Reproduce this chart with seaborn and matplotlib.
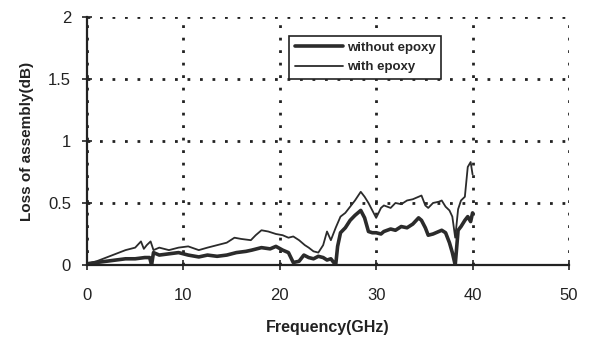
import numpy as np
import pandas as pd
import matplotlib
matplotlib.use("Agg")
import matplotlib.pyplot as plt
import seaborn as sns

# with epoxy (thin line)
freq_with = [0, 1, 2, 3, 4, 5, 5.6, 5.9, 6.2, 6.6, 6.9, 7.5, 8.5, 9.5, 10.5, 11.6, 12.5,
             13.5, 14.5, 15.3, 16, 17, 17.5, 18.1, 18.8, 19.6, 20.3, 20.9, 21.4, 22, 22.6,
             23, 23.5, 24, 24.5, 24.9, 25.3, 25.8, 26.3, 26.8, 27.3, 27.8, 28.4, 28.8,
             29.2, 29.6, 30, 30.5, 30.8, 31.5, 32, 32.6, 33.2, 33.8, 34.4, 34.7, 35.1,
             35.4, 35.9, 36.5, 36.8, 37.2, 37.6, 37.9, 38.2, 38.5, 38.8, 39.2, 39.5,
             39.8, 40]
loss_with = [0.01, 0.03, 0.06, 0.09, 0.12, 0.14, 0.19, 0.13, 0.16, 0.19, 0.12, 0.14,
             0.12, 0.14, 0.15, 0.12, 0.14, 0.16, 0.18, 0.22, 0.21, 0.20, 0.24, 0.28,
             0.27, 0.25, 0.24, 0.22, 0.23, 0.20, 0.16, 0.14, 0.11, 0.10, 0.16, 0.27,
             0.20, 0.30, 0.39, 0.42, 0.47, 0.52, 0.59, 0.55, 0.50, 0.44, 0.38, 0.46,
             0.48, 0.46, 0.50, 0.49, 0.52, 0.53, 0.55, 0.56, 0.48, 0.46, 0.50, 0.51,
             0.52, 0.47, 0.44, 0.39, 0.22, 0.45, 0.52, 0.55, 0.79, 0.83, 0.73]

# without epoxy (thick line)
freq_without = [0, 1, 2, 3, 4, 5, 6, 6.5, 6.7, 6.9, 7.5, 8.5, 9.5, 10.5, 11.6, 12.5,
                13.5, 14.5, 15.5, 16.5, 17.1, 18.1, 19, 19.6, 20.3, 20.9, 21.4, 22,
                22.5, 23, 23.5, 24, 24.5, 24.9, 25.3, 25.8, 26, 26.3, 26.8, 27.3, 27.8,
                28.4, 28.8, 29.2, 29.6, 30, 30.5, 30.8, 31.5, 32, 32.6, 33.2, 33.8,
                34.4, 34.7, 35.1, 35.4, 35.9, 36.5, 36.8, 37.2, 37.6, 37.9, 38.2, 38.5,
                38.8, 39.2, 39.5, 39.8, 40]
loss_without = [0.01, 0.02, 0.03, 0.04, 0.05, 0.05, 0.06, 0.06, 0.00, 0.10, 0.08,
                0.09, 0.10, 0.08, 0.065, 0.08, 0.07, 0.08, 0.10, 0.11, 0.12, 0.14,
                0.13, 0.15, 0.12, 0.10, 0.02, 0.03, 0.08, 0.06, 0.05, 0.07, 0.06,
                0.04, 0.05, 0.00, 0.15, 0.26, 0.30, 0.36, 0.40, 0.44, 0.38, 0.27,
                0.26, 0.26, 0.25, 0.27, 0.29, 0.28, 0.31, 0.30, 0.33, 0.38, 0.36,
                0.30, 0.24, 0.25, 0.27, 0.28, 0.26, 0.18, 0.10, 0.00, 0.28, 0.31,
                0.36, 0.39, 0.35, 0.42]

xticks = [0, 10, 20, 30, 40, 50]
yticks = [0, 0.5, 1, 1.5, 2]
ytick_labels = ["0", "0.5", "1", "1.5", "2"]

sns.set_theme(style="white")
plt.rcParams['font.family'] = ['Liberation Sans', 'DejaVu Sans']

fig = plt.figure(figsize=(6.04, 3.38), dpi=100)
ax = fig.add_axes([0.144, 0.216, 0.798, 0.734])

df_with = pd.DataFrame({"f": freq_with, "loss": loss_with})
df_without = pd.DataFrame({"f": freq_without, "loss": loss_without})

sns.lineplot(data=df_without, x="f", y="loss", ax=ax, color="#2b2b2b",
             linewidth=2.6, label="without epoxy", sort=False, estimator=None)
sns.lineplot(data=df_with, x="f", y="loss", ax=ax, color="#2b2b2b",
             linewidth=1.3, label="with epoxy", sort=False, estimator=None)

ax.set_xlim(0, 50)
ax.set_ylim(0, 2)
ax.set_xticks(xticks)
ax.set_yticks(yticks)
ax.set_yticklabels(ytick_labels)
ax.grid(True, color="#222222", linestyle=(0, (1, 3.5)), linewidth=2.0)
for s in ["top", "right"]:
    ax.spines[s].set_visible(False)
for s in ["left", "bottom"]:
    ax.spines[s].set_color("#222222")
    ax.spines[s].set_linewidth(1.6)
ax.tick_params(axis="both", direction="inout", length=7, width=1.2,
               color="#222222", labelsize=12, labelcolor="#222222",
               left=True, bottom=True)
ax.tick_params(axis="x", pad=13)
ax.tick_params(axis="y", pad=8)

ax.set_xlabel("Frequency(GHz)", fontsize=11.5, fontweight="bold", color="#222222",
              labelpad=12)
ax.set_ylabel("Loss of assembly(dB)", fontsize=11, fontweight="bold",
              color="#222222", labelpad=10)

leg = ax.legend(loc="upper left", bbox_to_anchor=(0.42, 0.925), frameon=True,
                fancybox=False, edgecolor="#222222",
                prop={"size": 9.5, "weight": "bold"},
                handlelength=3.6, borderpad=0.45, labelspacing=0.55,
                handletextpad=0.3, borderaxespad=0)
leg.get_frame().set_linewidth(1.2)
leg.get_frame().set_facecolor("white")
leg.get_frame().set_alpha(1)

fig.savefig("out.png", dpi=100)
